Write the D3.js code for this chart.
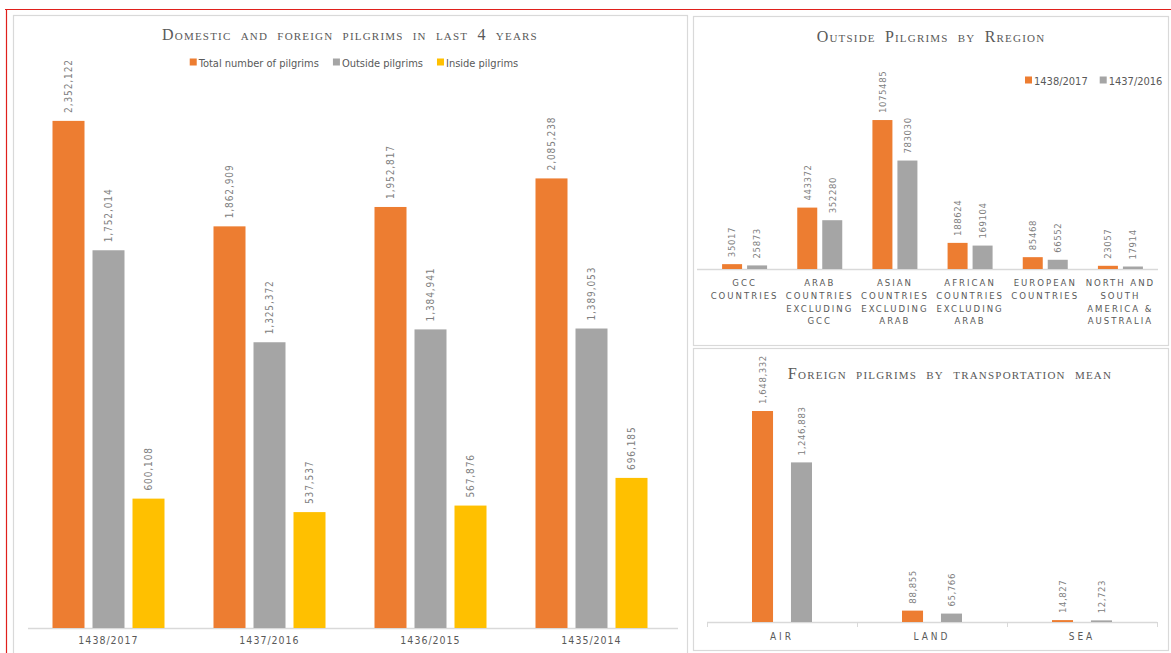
<!DOCTYPE html>
<html>
<head>
<meta charset="utf-8">
<script src="https://cdn.jsdelivr.net/npm/d3@7"></script>
<style>
  html, body { margin: 0; padding: 0; background: #fff; }
  svg { display: block; }
  .title { font-family: "Liberation Serif", "DejaVu Serif", serif; font-variant: small-caps; fill: #595959; }
  .val { font-family: "Liberation Sans Narrow", "DejaVu Sans Condensed", "Liberation Sans", sans-serif; fill: #808080; }
  .cat { font-family: "Liberation Sans Narrow", "DejaVu Sans Condensed", "Liberation Sans", sans-serif; fill: #595959; }
  .leg { font-family: "Liberation Sans Narrow", "DejaVu Sans Condensed", "Liberation Sans", sans-serif; fill: #595959; }
</style>
</head>
<body>
<svg id="chart" width="1171" height="653"></svg>
<script>
// Domestic and foreign pilgrims, last four seasons
const years = ["1438/2017", "1437/2016", "1436/2015", "1435/2014"];
const pilgrimSeries = ["Total number of pilgrims", "Outside pilgrims", "Inside pilgrims"];
const totalPilgrims = [2352122, 1862909, 1952817, 2085238];
const outsidePilgrims = [1752014, 1325372, 1384941, 1389053];
const insidePilgrims = [600108, 537537, 567876, 696185];

// Outside pilgrims by region
const regions = [
  ["GCC", "COUNTRIES"],
  ["ARAB", "COUNTRIES", "EXCLUDING", "GCC"],
  ["ASIAN", "COUNTRIES", "EXCLUDING", "ARAB"],
  ["AFRICAN", "COUNTRIES", "EXCLUDING", "ARAB"],
  ["EUROPEAN", "COUNTRIES"],
  ["NORTH AND", "SOUTH", "AMERICA &", "AUSTRALIA"]
];
const regionSeries = ["1438/2017", "1437/2016"];
const region2017 = [35017, 443372, 1075485, 188624, 85468, 23057];
const region2016 = [25873, 352280, 783030, 169104, 66552, 17914];

// Foreign pilgrims by transportation mean
const transportModes = ["AIR", "LAND", "SEA"];
const transport2017 = [1648332, 88855, 14827];
const transport2016 = [1246883, 65766, 12723];

const ORANGE = "#ED7D31", GRAY = "#A5A5A5", YELLOW = "#FFC000";

const svg = d3.select("#chart");

// outer frame lines
svg.append("line").attr("x1", 5).attr("x2", 1171).attr("y1", 9.5).attr("y2", 9.5)
  .attr("stroke", "#e0201c").attr("stroke-width", 1.2);
svg.append("line").attr("x1", 6.5).attr("x2", 6.5).attr("y1", 9).attr("y2", 653)
  .attr("stroke", "#e0201c").attr("stroke-width", 1.2);

// panel borders
const panels = [
  { x: 13, y: 15, w: 674, h: 650 },
  { x: 693, y: 16, w: 475, h: 329 },
  { x: 693, y: 348, w: 475, h: 302 }
];
svg.selectAll("rect.panel").data(panels).join("rect")
  .attr("class", "panel")
  .attr("x", d => d.x + 0.5).attr("y", d => d.y + 0.5)
  .attr("width", d => d.w).attr("height", d => d.h)
  .attr("fill", "none").attr("stroke", "#d9d9d9").attr("stroke-width", 1.2);

function groupedBars(opt) {
  const g = svg.append("g");
  const idx = d3.range(opt.categories.length);
  const x0 = d3.scaleBand().domain(idx).range(opt.xRange);
  const x1 = d3.scaleBand().domain(d3.range(opt.series.length))
    .range([0, opt.groupWidth]).paddingInner(opt.innerPad);
  const y = d3.scaleLinear().domain([0, opt.yMax]).range([opt.baseline, opt.yTop]);
  const off = (x0.bandwidth() - opt.groupWidth) / 2;

  // baseline
  g.append("line")
    .attr("x1", opt.axisX[0]).attr("x2", opt.axisX[1])
    .attr("y1", opt.baseline + 0.5).attr("y2", opt.baseline + 0.5)
    .attr("stroke", "#d9d9d9").attr("stroke-width", opt.axisWidth || 1.3);

  if (opt.ticks) {
    const edges = idx.map(i => x0(i)).concat([x0.range()[1]]);
    g.selectAll("line.tk").data(edges).join("line")
      .attr("x1", d => d + 0.5).attr("x2", d => d + 0.5)
      .attr("y1", opt.baseline).attr("y2", opt.baseline + 5)
      .attr("stroke", "#d9d9d9").attr("stroke-width", 1);
  }

  opt.series.forEach((s, si) => {
    const vals = opt.values[si];
    g.selectAll(null).data(idx).join("rect")
      .attr("x", i => x0(i) + off + x1(si))
      .attr("y", i => y(vals[i]))
      .attr("width", x1.bandwidth())
      .attr("height", i => opt.baseline - y(vals[i]))
      .attr("fill", opt.colors[si]);
    g.selectAll(null).data(idx).join("text")
      .attr("class", "val")
      .attr("transform", i => `translate(${x0(i) + off + x1(si) + x1.bandwidth() / 2},${y(vals[i]) - opt.labelGap}) rotate(-90)`)
      .attr("dy", "0.35em")
      .attr("font-size", opt.valSize)
      .attr("letter-spacing", opt.valSpacing)
      .text(i => opt.fmt(vals[i]));
  });

  // category labels
  const cats = g.selectAll("text.cat").data(idx).join("text")
    .attr("class", "cat")
    .attr("text-anchor", "middle")
    .attr("font-size", opt.catSize)
    .attr("letter-spacing", opt.catSpacing);
  cats.each(function (i) {
    const lines = Array.isArray(opt.categories[i]) ? opt.categories[i] : [opt.categories[i]];
    d3.select(this).selectAll("tspan").data(lines).join("tspan")
      .attr("x", x0(i) + x0.bandwidth() / 2)
      .attr("y", (d, k) => opt.catY + k * opt.catLine)
      .text(d => d);
  });
  return g;
}

function legend(items, x, y, size, gapAfter) {
  const g = svg.append("g");
  let cx = x;
  items.forEach(it => {
    g.append("rect").attr("x", cx).attr("y", y - size / 2 - 1).attr("width", size).attr("height", size).attr("fill", it.color);
    const t = g.append("text").attr("class", "leg").attr("x", cx + size + 2).attr("y", y)
      .attr("dy", "0.32em").attr("font-size", 11).text(it.label);
    cx += size + 2 + t.node().getComputedTextLength() + gapAfter;
  });
  return g;
}

function title(text, cx, cy, size) {
  svg.append("text").attr("class", "title")
    .attr("x", cx).attr("y", cy).attr("text-anchor", "middle")
    .attr("font-size", size).attr("letter-spacing", 1.2).attr("word-spacing", 4)
    .text(text);
}

const fmtComma = d3.format(",");
const fmtPlain = d3.format("d");

// ---- Left: domestic and foreign pilgrims ----
title("Domestic and foreign pilgrims in last 4 years", 350, 40, 16);
const leg1 = legend(
  pilgrimSeries.map((s, i) => ({ label: s, color: [ORANGE, GRAY, YELLOW][i] })),
  0, 63, 7, 14);
{
  const bb = leg1.node().getBBox();
  leg1.attr("transform", `translate(${354 - bb.width / 2},0)`);
}
groupedBars({
  categories: years,
  series: pilgrimSeries,
  values: [totalPilgrims, outsidePilgrims, insidePilgrims],
  colors: [ORANGE, GRAY, YELLOW],
  xRange: [28, 672],
  axisX: [28, 678],
  groupWidth: 112, innerPad: 0.2,
  yMax: 2500000, baseline: 628, yTop: 89,
  fmt: fmtComma, labelGap: 8, valSize: 10, valSpacing: 0.9,
  catY: 644, catLine: 13, catSize: 10.5, catSpacing: 1
});

// ---- Top right: outside pilgrims by region ----
title("Outside Pilgrims by Rregion", 931, 42, 16);
legend(regionSeries.map((s, i) => ({ label: s, color: [ORANGE, GRAY][i] })), 1025, 81, 7, 12);
groupedBars({
  categories: regions,
  series: regionSeries,
  values: [region2017, region2016],
  colors: [ORANGE, GRAY],
  xRange: [707, 1158],
  axisX: [697, 1158],
  groupWidth: 45, innerPad: 0.2,
  yMax: 1200000, baseline: 269, yTop: 102.8,
  fmt: fmtPlain, labelGap: 7, valSize: 9.5, valSpacing: 0.6,
  catY: 286, catLine: 12.8, catSize: 9.5, catSpacing: 2
});

// ---- Bottom right: foreign pilgrims by transportation mean ----
title("Foreign pilgrims by transportation mean", 950, 379, 16.3);
groupedBars({
  categories: transportModes,
  series: regionSeries,
  values: [transport2017, transport2016],
  colors: [ORANGE, GRAY],
  xRange: [707, 1157],
  axisX: [707, 1157],
  ticks: true,
  groupWidth: 60, innerPad: 0.46,
  yMax: 1800000, baseline: 622, yTop: 391.6,
  fmt: fmtComma, labelGap: 7, valSize: 9.5, valSpacing: 0.6,
  catY: 640, catLine: 13, catSize: 10, catSpacing: 3
});
</script>
</body>
</html>
